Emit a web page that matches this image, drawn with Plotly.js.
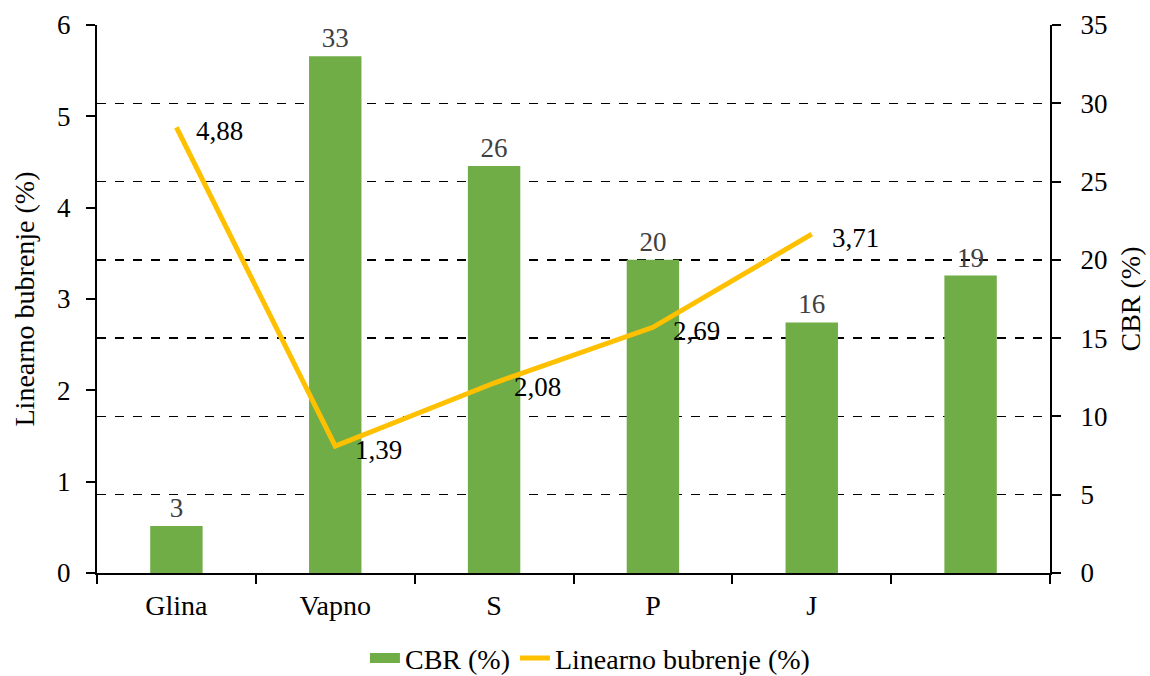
<!DOCTYPE html>
<html>
<head>
<meta charset="utf-8">
<script src="https://cdn.plot.ly/plotly-3.0.1.min.js"></script>
<style>html,body{margin:0;padding:0;background:#fff;}#chart{width:1150px;height:676px;}</style>
</head>
<body>
<div id="chart"></div>
<script>
const categories = ['Glina', 'Vapno', 'S', 'P', 'J', ' '];
const cbrValues = [3, 33, 26, 20, 16, 19];
const lineCategories = ['Glina', 'Vapno', 'S', 'P', 'J'];
const swellValues = [4.88, 1.39, 2.08, 2.69, 3.71];
const cbrTicks = [0, 5, 10, 15, 20, 25, 30, 35];
const swellTicks = [0, 1, 2, 3, 4, 5, 6];

const FONT = '"Liberation Serif", "Times New Roman", Times, serif';
const FS = 27;
const TFS = 28;

const traces = [
  {
    type: 'bar',
    name: 'CBR (%)',
    x: categories,
    y: cbrValues,
    yaxis: 'y',
    width: 0.33,
    marker: {color: '#70AD47'},
    text: cbrValues.map(String),
    textposition: 'outside',
    cliponaxis: false,
    textfont: {family: FONT, size: FS, color: '#404040'},
    showlegend: false
  },
  {
    type: 'scatter',
    mode: 'lines',
    name: 'CBR (%)',
    x: [null],
    y: [null],
    yaxis: 'y',
    line: {color: '#70AD47', width: 15},
    showlegend: true
  },
  {
    type: 'scatter',
    mode: 'lines',
    name: 'Linearno bubrenje (%)',
    x: lineCategories,
    y: swellValues,
    yaxis: 'y2',
    line: {color: '#FFC000', width: 5},
    cliponaxis: false
  }
];

const annotations = lineCategories.map((c, i) => ({
  x: c,
  y: swellValues[i],
  xref: 'x',
  yref: 'y2',
  text: swellValues[i].toFixed(2).replace('.', ','),
  showarrow: false,
  xanchor: 'left',
  yanchor: 'middle',
  xshift: 18,
  yshift: -4,
  font: {family: FONT, size: FS, color: '#000'}
}));

const layout = {
  width: 1150,
  height: 676,
  paper_bgcolor: '#ffffff',
  plot_bgcolor: '#ffffff',
  font: {family: FONT, size: FS, color: '#000000'},
  margin: {l: 97, r: 100, t: 25, b: 103},
  showlegend: true,
  annotations: annotations,
  legend: {
    orientation: 'h',
    x: 0.513, xanchor: 'center', xref: 'container',
    y: 0.063, yanchor: 'top', yref: 'container',
    font: {family: FONT, size: TFS, color: '#000'},
    tracegroupgap: 0,
    bgcolor: 'rgba(0,0,0,0)'
  },
  xaxis: {
    type: 'category',
    categoryorder: 'array',
    categoryarray: categories,
    tickson: 'boundaries',
    ticks: 'outside',
    ticklen: 9,
    tickwidth: 2,
    tickcolor: '#000',
    ticklabelstandoff: 6,
    showline: true,
    linecolor: '#000',
    linewidth: 2,
    showgrid: false,
    tickfont: {family: FONT, size: TFS, color: '#000'},
    zeroline: false
  },
  yaxis: {
    side: 'right',
    range: [0, 35],
    tickvals: cbrTicks,
    ticks: 'outside',
    ticklen: 9,
    tickwidth: 2,
    tickcolor: '#000',
    ticklabelstandoff: 14,
    showline: true,
    linecolor: '#000',
    linewidth: 2,
    showgrid: true,
    gridcolor: '#000',
    gridwidth: 1.5,
    griddash: 'dash',
    zeroline: false,
    tickfont: {family: FONT, size: FS, color: '#000'},
    title: {text: 'CBR (%)', font: {family: FONT, size: TFS, color: '#000'}, standoff: 14}
  },
  yaxis2: {
    side: 'left',
    overlaying: 'y',
    range: [0, 6],
    tickvals: swellTicks,
    ticks: 'outside',
    ticklen: 9,
    tickwidth: 2,
    tickcolor: '#000',
    ticklabelstandoff: 10,
    showline: true,
    linecolor: '#000',
    linewidth: 2,
    showgrid: false,
    zeroline: false,
    tickfont: {family: FONT, size: FS, color: '#000'},
    title: {text: 'Linearno bubrenje (%)', font: {family: FONT, size: TFS, color: '#000'}, standoff: 14}
  }
};

Plotly.newPlot('chart', traces, layout, {displayModeBar: false, staticPlot: true});
</script>
</body>
</html>
